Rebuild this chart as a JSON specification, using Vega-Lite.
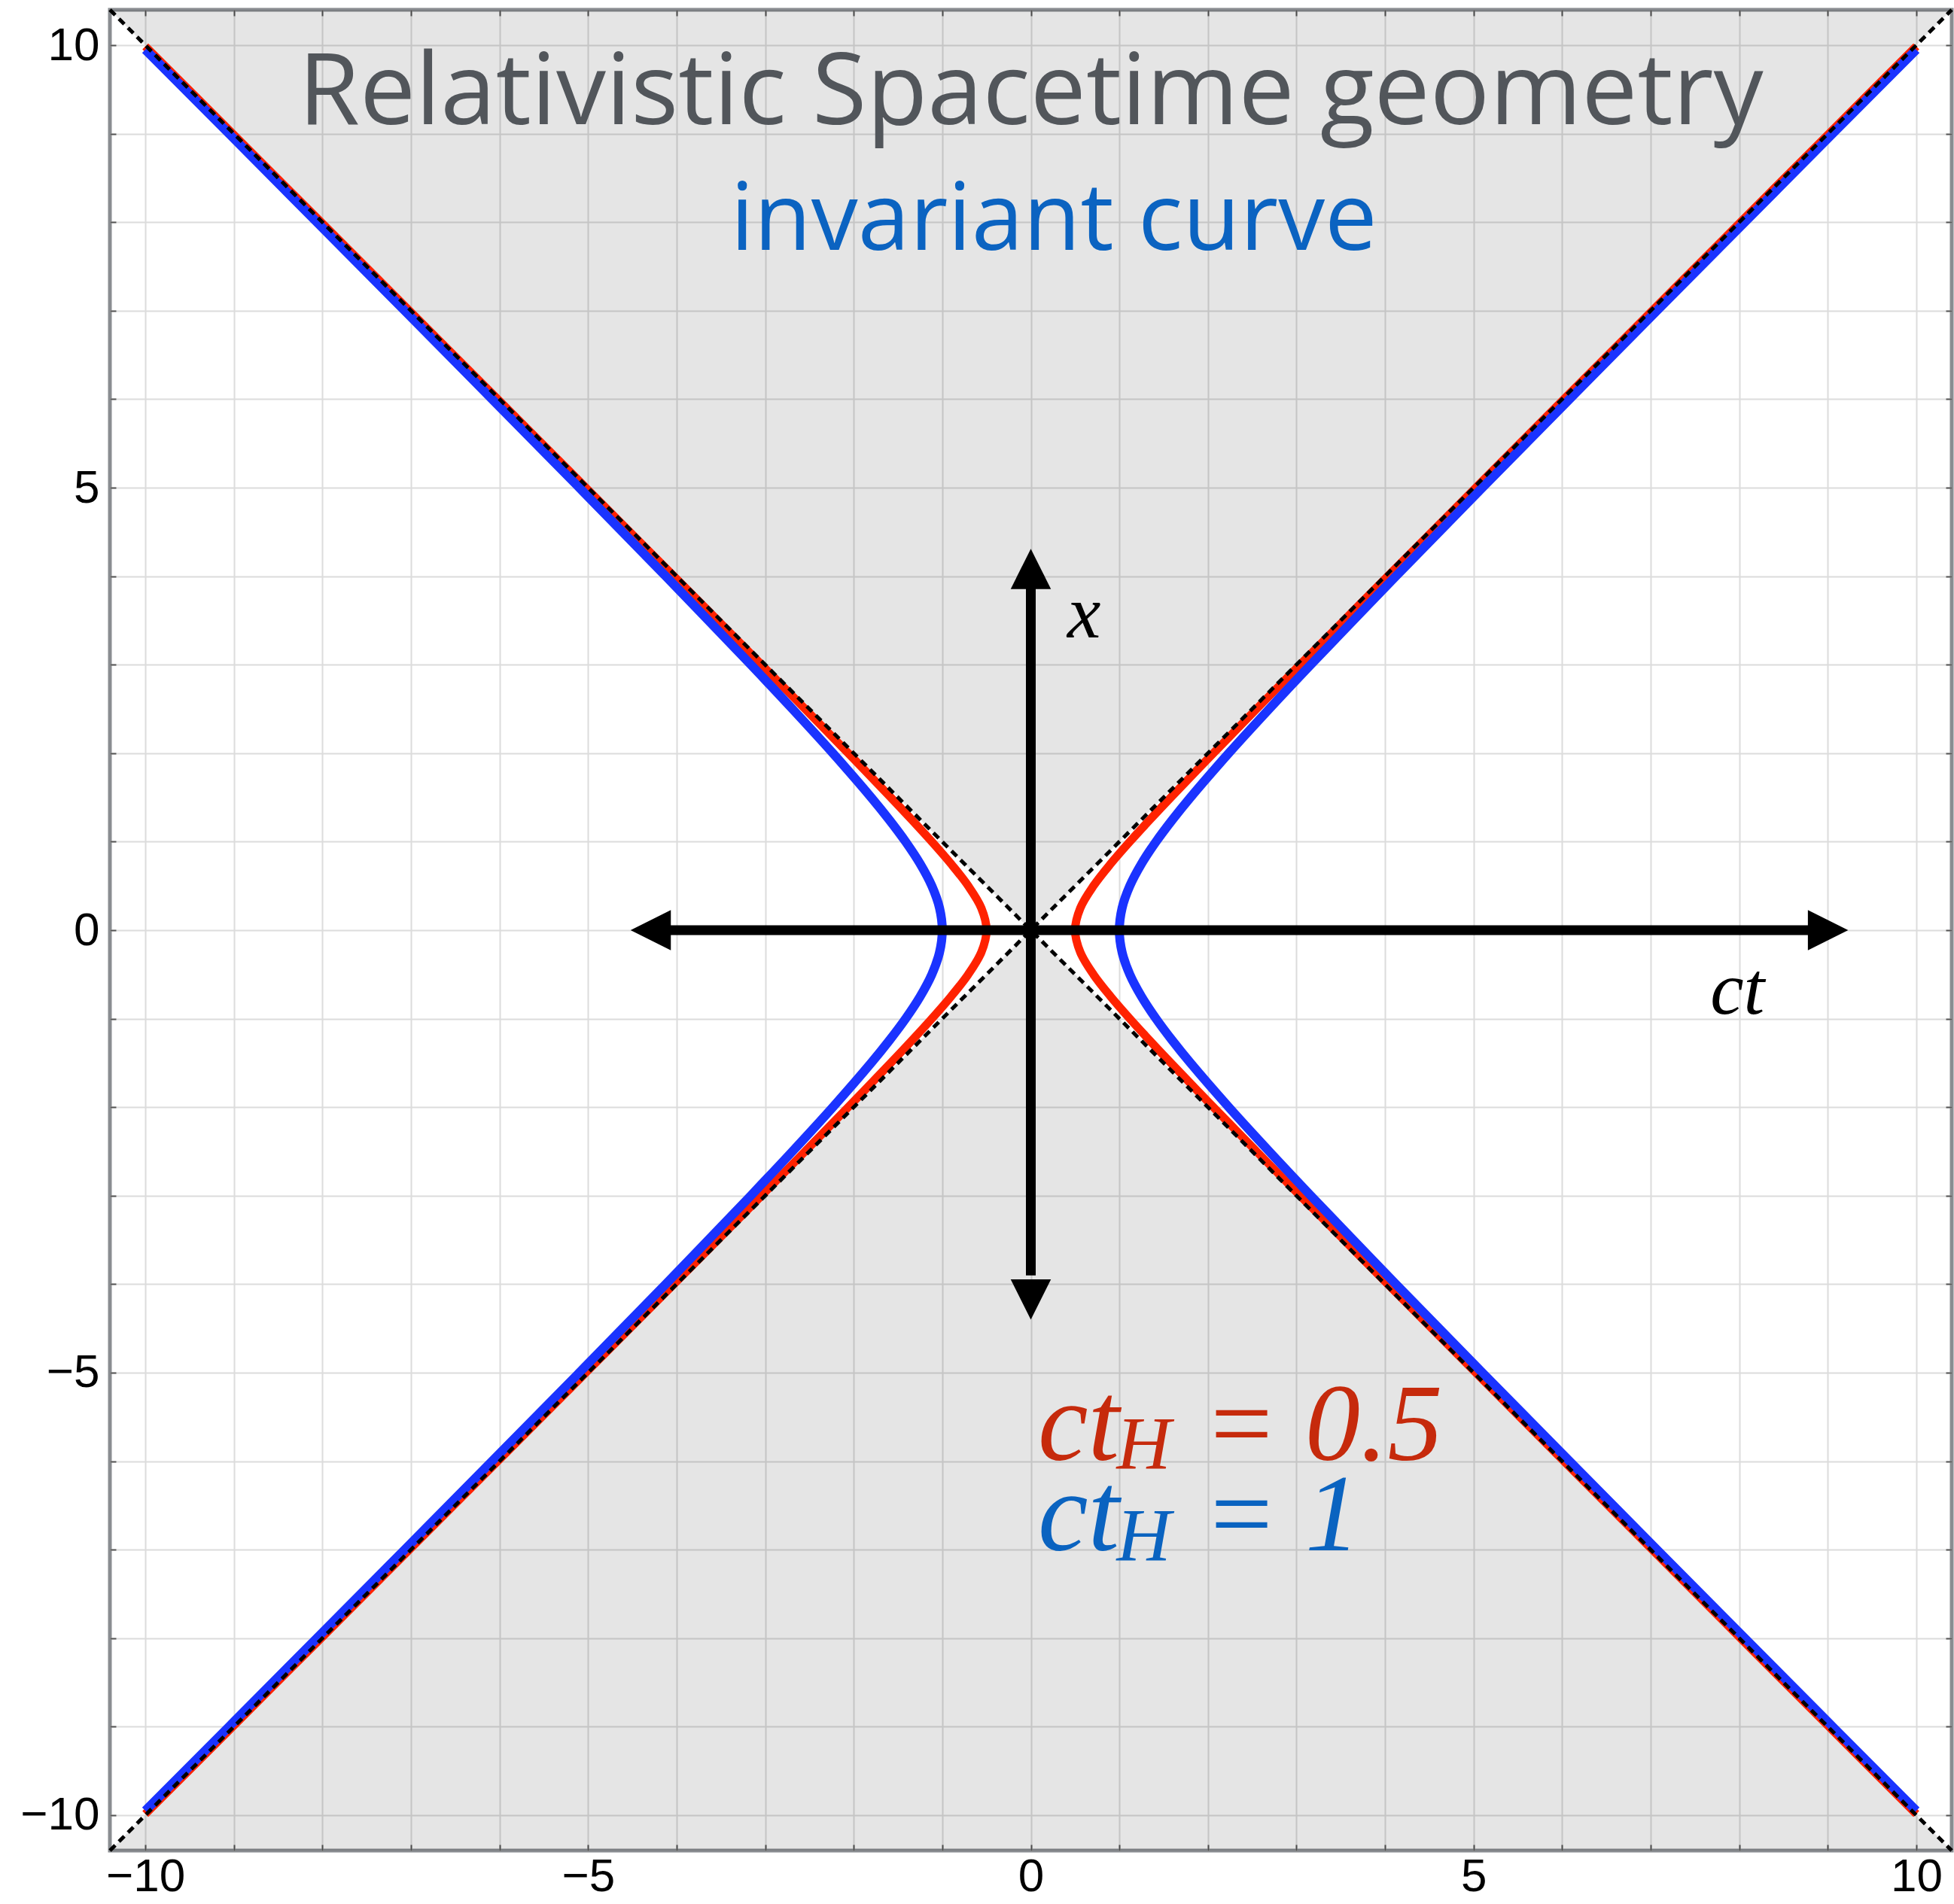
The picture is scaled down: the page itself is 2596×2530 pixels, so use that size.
{
  "$schema": "https://vega.github.io/schema/vega-lite/v6.json",
  "width": 2447,
  "height": 2446,
  "autosize": {"type": "none"},
  "padding": {"left": 146, "top": 13, "right": 3, "bottom": 71},
  "background": "white",
  "config": {
    "view": {"stroke": "#8a8d91", "strokeWidth": 5},
    "axis": {
      "labelFont": "Liberation Sans",
      "labelFontSize": 62,
      "labelColor": "black",
      "domain": false,
      "tickColor": "#555555",
      "tickWidth": 2,
      "gridColor": "#dcdcdc",
      "gridWidth": 2,
      "title": null,
      "labelOverlap": false,
      "labelFlush": false
    }
  },
  "datasets": {
    "cone": [
      {"p": "top", "x": -10.4, "y": 10.4, "y2": 10.4},
      {"p": "top", "x": 0, "y": 0, "y2": 10.4},
      {"p": "top", "x": 10.4, "y": 10.4, "y2": 10.4},
      {"p": "bottom", "x": -10.4, "y": -10.4, "y2": -10.4},
      {"p": "bottom", "x": 0, "y": 0, "y2": -10.4},
      {"p": "bottom", "x": 10.4, "y": -10.4, "y2": -10.4}
    ],
    "lightcone": [
      {"d": "a", "x": -10.4, "y": -10.4},
      {"d": "a", "x": 10.4, "y": 10.4},
      {"d": "b", "x": -10.4, "y": 10.4},
      {"d": "b", "x": 10.4, "y": -10.4}
    ],
    "hyperRed": [
      {"s": "R", "x": 10, "y": -9.987}, {"s": "R", "x": 9.0139, "y": -9}, {"s": "R", "x": 8.0156, "y": -8},
      {"s": "R", "x": 7.0178, "y": -7}, {"s": "R", "x": 6.0208, "y": -6}, {"s": "R", "x": 5.0249, "y": -5},
      {"s": "R", "x": 4.0311, "y": -4}, {"s": "R", "x": 3.0414, "y": -3}, {"s": "R", "x": 2.5495, "y": -2.5},
      {"s": "R", "x": 2.0616, "y": -2}, {"s": "R", "x": 1.5811, "y": -1.5}, {"s": "R", "x": 1.3463, "y": -1.25},
      {"s": "R", "x": 1.118, "y": -1}, {"s": "R", "x": 0.9014, "y": -0.75}, {"s": "R", "x": 0.7071, "y": -0.5},
      {"s": "R", "x": 0.559, "y": -0.25}, {"s": "R", "x": 0.5, "y": 0}, {"s": "R", "x": 0.559, "y": 0.25},
      {"s": "R", "x": 0.7071, "y": 0.5}, {"s": "R", "x": 0.9014, "y": 0.75}, {"s": "R", "x": 1.118, "y": 1},
      {"s": "R", "x": 1.3463, "y": 1.25}, {"s": "R", "x": 1.5811, "y": 1.5}, {"s": "R", "x": 2.0616, "y": 2},
      {"s": "R", "x": 2.5495, "y": 2.5}, {"s": "R", "x": 3.0414, "y": 3}, {"s": "R", "x": 4.0311, "y": 4},
      {"s": "R", "x": 5.0249, "y": 5}, {"s": "R", "x": 6.0208, "y": 6}, {"s": "R", "x": 7.0178, "y": 7},
      {"s": "R", "x": 8.0156, "y": 8}, {"s": "R", "x": 9.0139, "y": 9}, {"s": "R", "x": 10, "y": 9.987},
      {"s": "L", "x": -10, "y": -9.987}, {"s": "L", "x": -9.0139, "y": -9}, {"s": "L", "x": -8.0156, "y": -8},
      {"s": "L", "x": -7.0178, "y": -7}, {"s": "L", "x": -6.0208, "y": -6}, {"s": "L", "x": -5.0249, "y": -5},
      {"s": "L", "x": -4.0311, "y": -4}, {"s": "L", "x": -3.0414, "y": -3}, {"s": "L", "x": -2.5495, "y": -2.5},
      {"s": "L", "x": -2.0616, "y": -2}, {"s": "L", "x": -1.5811, "y": -1.5}, {"s": "L", "x": -1.3463, "y": -1.25},
      {"s": "L", "x": -1.118, "y": -1}, {"s": "L", "x": -0.9014, "y": -0.75}, {"s": "L", "x": -0.7071, "y": -0.5},
      {"s": "L", "x": -0.559, "y": -0.25}, {"s": "L", "x": -0.5, "y": 0}, {"s": "L", "x": -0.559, "y": 0.25},
      {"s": "L", "x": -0.7071, "y": 0.5}, {"s": "L", "x": -0.9014, "y": 0.75}, {"s": "L", "x": -1.118, "y": 1},
      {"s": "L", "x": -1.3463, "y": 1.25}, {"s": "L", "x": -1.5811, "y": 1.5}, {"s": "L", "x": -2.0616, "y": 2},
      {"s": "L", "x": -2.5495, "y": 2.5}, {"s": "L", "x": -3.0414, "y": 3}, {"s": "L", "x": -4.0311, "y": 4},
      {"s": "L", "x": -5.0249, "y": 5}, {"s": "L", "x": -6.0208, "y": 6}, {"s": "L", "x": -7.0178, "y": 7},
      {"s": "L", "x": -8.0156, "y": 8}, {"s": "L", "x": -9.0139, "y": 9}, {"s": "L", "x": -10, "y": 9.987}
    ],
    "hyperBlue": [
      {"s": "R", "x": 10, "y": -9.95}, {"s": "R", "x": 9.0554, "y": -9}, {"s": "R", "x": 8.0623, "y": -8},
      {"s": "R", "x": 7.0711, "y": -7}, {"s": "R", "x": 6.0828, "y": -6}, {"s": "R", "x": 5.099, "y": -5},
      {"s": "R", "x": 4.1231, "y": -4}, {"s": "R", "x": 3.1623, "y": -3}, {"s": "R", "x": 2.6926, "y": -2.5},
      {"s": "R", "x": 2.2361, "y": -2}, {"s": "R", "x": 1.8028, "y": -1.5}, {"s": "R", "x": 1.6008, "y": -1.25},
      {"s": "R", "x": 1.4142, "y": -1}, {"s": "R", "x": 1.25, "y": -0.75}, {"s": "R", "x": 1.118, "y": -0.5},
      {"s": "R", "x": 1.0308, "y": -0.25}, {"s": "R", "x": 1, "y": 0}, {"s": "R", "x": 1.0308, "y": 0.25},
      {"s": "R", "x": 1.118, "y": 0.5}, {"s": "R", "x": 1.25, "y": 0.75}, {"s": "R", "x": 1.4142, "y": 1},
      {"s": "R", "x": 1.6008, "y": 1.25}, {"s": "R", "x": 1.8028, "y": 1.5}, {"s": "R", "x": 2.2361, "y": 2},
      {"s": "R", "x": 2.6926, "y": 2.5}, {"s": "R", "x": 3.1623, "y": 3}, {"s": "R", "x": 4.1231, "y": 4},
      {"s": "R", "x": 5.099, "y": 5}, {"s": "R", "x": 6.0828, "y": 6}, {"s": "R", "x": 7.0711, "y": 7},
      {"s": "R", "x": 8.0623, "y": 8}, {"s": "R", "x": 9.0554, "y": 9}, {"s": "R", "x": 10, "y": 9.95},
      {"s": "L", "x": -10, "y": -9.95}, {"s": "L", "x": -9.0554, "y": -9}, {"s": "L", "x": -8.0623, "y": -8},
      {"s": "L", "x": -7.0711, "y": -7}, {"s": "L", "x": -6.0828, "y": -6}, {"s": "L", "x": -5.099, "y": -5},
      {"s": "L", "x": -4.1231, "y": -4}, {"s": "L", "x": -3.1623, "y": -3}, {"s": "L", "x": -2.6926, "y": -2.5},
      {"s": "L", "x": -2.2361, "y": -2}, {"s": "L", "x": -1.8028, "y": -1.5}, {"s": "L", "x": -1.6008, "y": -1.25},
      {"s": "L", "x": -1.4142, "y": -1}, {"s": "L", "x": -1.25, "y": -0.75}, {"s": "L", "x": -1.118, "y": -0.5},
      {"s": "L", "x": -1.0308, "y": -0.25}, {"s": "L", "x": -1, "y": 0}, {"s": "L", "x": -1.0308, "y": 0.25},
      {"s": "L", "x": -1.118, "y": 0.5}, {"s": "L", "x": -1.25, "y": 0.75}, {"s": "L", "x": -1.4142, "y": 1},
      {"s": "L", "x": -1.6008, "y": 1.25}, {"s": "L", "x": -1.8028, "y": 1.5}, {"s": "L", "x": -2.2361, "y": 2},
      {"s": "L", "x": -2.6926, "y": 2.5}, {"s": "L", "x": -3.1623, "y": 3}, {"s": "L", "x": -4.1231, "y": 4},
      {"s": "L", "x": -5.099, "y": 5}, {"s": "L", "x": -6.0828, "y": 6}, {"s": "L", "x": -7.0711, "y": 7},
      {"s": "L", "x": -8.0623, "y": 8}, {"s": "L", "x": -9.0554, "y": 9}, {"s": "L", "x": -10, "y": 9.95}
    ],
    "shafts": [
      {"a": "ct", "x": -4.1, "x2": 8.85, "y": 0, "y2": 0},
      {"a": "x", "x": 0, "x2": 0, "y": -3.9, "y2": 3.9}
    ],
    "heads": [
      {"dir": "r", "x": 9.23, "y": 0},
      {"dir": "l", "x": -4.52, "y": 0},
      {"dir": "u", "x": 0, "y": 4.31},
      {"dir": "d", "x": 0, "y": -4.4}
    ]
  },
  "resolve": {"axis": {"x": "independent", "y": "independent"}},
  "layer": [
    {
      "data": {"name": "cone"},
      "mark": {"type": "area", "color": "black", "opacity": 0.1},
      "encoding": {
        "x": {
          "field": "x", "type": "quantitative",
          "scale": {"domain": [-10.4, 10.4], "nice": false, "zero": false},
          "axis": {
            "orient": "bottom",
            "values": [-10, -9, -8, -7, -6, -5, -4, -3, -2, -1, 0, 1, 2, 3, 4, 5, 6, 7, 8, 9, 10],
            "grid": true, "tickSize": -8, "labelPadding": 12,
            "labelExpr": "datum.value % 5 === 0 ? datum.label : ''"
          }
        },
        "y": {
          "field": "y", "type": "quantitative",
          "scale": {"domain": [-10.4, 10.4], "nice": false, "zero": false},
          "axis": {
            "orient": "left",
            "values": [-10, -9, -8, -7, -6, -5, -4, -3, -2, -1, 0, 1, 2, 3, 4, 5, 6, 7, 8, 9, 10],
            "grid": true, "tickSize": -8, "labelPadding": 22,
            "labelExpr": "datum.value % 5 === 0 ? datum.label : ''"
          }
        },
        "y2": {"field": "y2"},
        "detail": {"field": "p"}
      }
    },
    {
      "mark": {"type": "rule", "color": "#6e6e6e", "strokeWidth": 2},
      "encoding": {"x": {"datum": 0, "type": "quantitative", "axis": null}}
    },
    {
      "mark": {"type": "rule", "color": "#8c8c8c", "strokeWidth": 2},
      "encoding": {"y": {"datum": 0, "type": "quantitative", "axis": null}}
    },
    {
      "data": {"name": "hyperRed"},
      "mark": {"type": "line", "color": "#ff2200", "strokeWidth": 11, "interpolate": "catmull-rom"},
      "encoding": {
        "x": {"field": "x", "type": "quantitative", "axis": null},
        "y": {"field": "y", "type": "quantitative", "axis": null},
        "detail": {"field": "s"},
        "order": {"field": "y"}
      }
    },
    {
      "data": {"name": "hyperBlue"},
      "mark": {"type": "line", "color": "#1a33ff", "strokeWidth": 12, "interpolate": "catmull-rom"},
      "encoding": {
        "x": {"field": "x", "type": "quantitative", "axis": null},
        "y": {"field": "y", "type": "quantitative", "axis": null},
        "detail": {"field": "s"},
        "order": {"field": "y"}
      }
    },
    {
      "data": {"name": "lightcone"},
      "mark": {"type": "line", "color": "black", "strokeWidth": 5, "strokeDash": [10, 7]},
      "encoding": {
        "x": {
          "field": "x", "type": "quantitative",
          "axis": {
            "orient": "top",
            "values": [-10, -9, -8, -7, -6, -5, -4, -3, -2, -1, 0, 1, 2, 3, 4, 5, 6, 7, 8, 9, 10],
            "grid": false, "labels": false, "tickSize": -8
          }
        },
        "y": {
          "field": "y", "type": "quantitative",
          "axis": {
            "orient": "right",
            "values": [-10, -9, -8, -7, -6, -5, -4, -3, -2, -1, 0, 1, 2, 3, 4, 5, 6, 7, 8, 9, 10],
            "grid": false, "labels": false, "tickSize": -8
          }
        },
        "detail": {"field": "d"}
      }
    },
    {
      "data": {"name": "shafts"},
      "mark": {"type": "rule", "color": "black", "strokeWidth": 13, "strokeCap": "butt"},
      "encoding": {
        "x": {"field": "x", "type": "quantitative", "axis": null},
        "x2": {"field": "x2"},
        "y": {"field": "y", "type": "quantitative", "axis": null},
        "y2": {"field": "y2"}
      }
    },
    {
      "data": {"name": "heads"},
      "mark": {"type": "point", "filled": true, "color": "black", "opacity": 1, "size": 2862},
      "encoding": {
        "x": {"field": "x", "type": "quantitative", "axis": null},
        "y": {"field": "y", "type": "quantitative", "axis": null},
        "shape": {
          "field": "dir", "type": "nominal", "legend": null,
          "scale": {
            "domain": ["r", "l", "u", "d"],
            "range": ["M0,0L-2,-1L-2,1Z", "M0,0L2,-1L2,1Z", "M0,0L-1,2L1,2Z", "M0,0L-1,-2L1,-2Z"]
          }
        }
      }
    },
    {
      "data": {"values": [{"t": "Relativistic Spacetime geometry", "x": 0, "y": 9.11}]},
      "mark": {"type": "text", "font": "Open Sans", "fontSize": 132, "color": "#52565b", "align": "center", "baseline": "alphabetic"},
      "encoding": {
        "x": {"field": "x", "type": "quantitative", "axis": null},
        "y": {"field": "y", "type": "quantitative", "axis": null},
        "text": {"field": "t"}
      }
    },
    {
      "data": {"values": [{"t": "invariant curve", "x": 0.26, "y": 7.69}]},
      "mark": {"type": "text", "font": "Open Sans", "fontSize": 124, "color": "#0b63c1", "align": "center", "baseline": "alphabetic"},
      "encoding": {
        "x": {"field": "x", "type": "quantitative", "axis": null},
        "y": {"field": "y", "type": "quantitative", "axis": null},
        "text": {"field": "t"}
      }
    },
    {
      "data": {"values": [{"t": "x", "x": 0.6, "y": 3.31}, {"t": "ct", "x": 7.98, "y": -0.94}]},
      "mark": {"type": "text", "font": "Liberation Serif", "fontStyle": "italic", "fontSize": 100, "color": "black", "align": "center", "baseline": "alphabetic"},
      "encoding": {
        "x": {"field": "x", "type": "quantitative", "axis": null},
        "y": {"field": "y", "type": "quantitative", "axis": null},
        "text": {"field": "t"}
      }
    },
    {
      "data": {"values": [
        {"t": "ct", "x": 0.08, "y": -5.99, "c": "red"},
        {"t": "ct", "x": 0.08, "y": -7.01, "c": "blue"}
      ]},
      "mark": {"type": "text", "font": "Liberation Serif", "fontStyle": "italic", "fontSize": 150, "align": "left", "baseline": "alphabetic"},
      "encoding": {
        "x": {"field": "x", "type": "quantitative", "axis": null},
        "y": {"field": "y", "type": "quantitative", "axis": null},
        "text": {"field": "t"},
        "color": {"field": "c", "type": "nominal", "legend": null, "scale": {"domain": ["red", "blue"], "range": ["#c62a0c", "#0a63c0"]}}
      }
    },
    {
      "data": {"values": [
        {"t": "H", "x": 0.97, "y": -6.08, "c": "red"},
        {"t": "H", "x": 0.97, "y": -7.12, "c": "blue"}
      ]},
      "mark": {"type": "text", "font": "Liberation Serif", "fontStyle": "italic", "fontSize": 100, "align": "left", "baseline": "alphabetic"},
      "encoding": {
        "x": {"field": "x", "type": "quantitative", "axis": null},
        "y": {"field": "y", "type": "quantitative", "axis": null},
        "text": {"field": "t"},
        "color": {"field": "c", "type": "nominal", "legend": null, "scale": {"domain": ["red", "blue"], "range": ["#c62a0c", "#0a63c0"]}}
      }
    },
    {
      "data": {"values": [
        {"t": "= 0.5", "x": 1.95, "y": -5.99, "c": "red"},
        {"t": "= 1", "x": 1.95, "y": -7.01, "c": "blue"}
      ]},
      "mark": {"type": "text", "font": "Liberation Serif", "fontStyle": "italic", "fontSize": 146, "align": "left", "baseline": "alphabetic"},
      "encoding": {
        "x": {"field": "x", "type": "quantitative", "axis": null},
        "y": {"field": "y", "type": "quantitative", "axis": null},
        "text": {"field": "t"},
        "color": {"field": "c", "type": "nominal", "legend": null, "scale": {"domain": ["red", "blue"], "range": ["#c62a0c", "#0a63c0"]}}
      }
    }
  ]
}
